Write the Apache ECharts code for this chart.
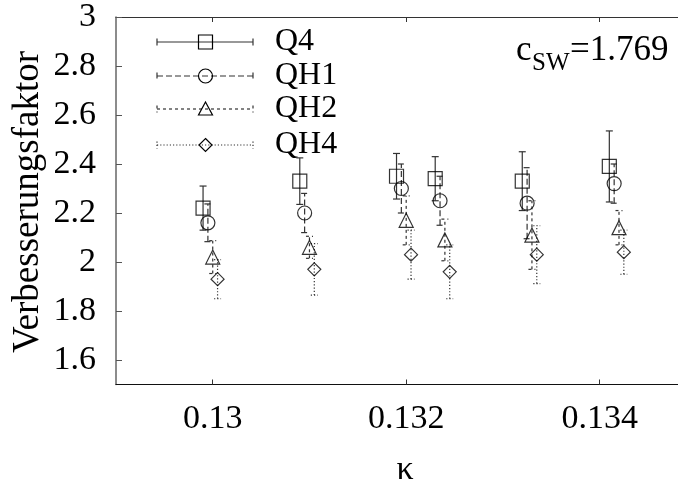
<!DOCTYPE html>
<html>
<head>
<meta charset="utf-8">
<script src="https://cdn.jsdelivr.net/npm/echarts@6/dist/echarts.min.js"></script>
<style>
  html, body { margin: 0; padding: 0; background: #fff; overflow: hidden; width: 678px; height: 486px; }
  #chart { width: 678px; height: 486px; }
</style>
</head>
<body>
<div id="chart"></div>
<script>
// Improvement factor vs. hopping parameter kappa, four operators, c_SW = 1.769
const xTicks = [0.13, 0.132, 0.134];
const yTicks = [1.6, 1.8, 2.0, 2.2, 2.4, 2.6, 2.8, 3.0];

const kappaQ4  = [0.1299, 0.1309, 0.1319, 0.1323, 0.1332, 0.1341];
const valQ4    = [2.22, 2.33, 2.35, 2.34, 2.33, 2.39];
const errQ4    = [0.09, 0.095, 0.093, 0.09, 0.12, 0.145];

const kappaQH1 = [0.12995, 0.13095, 0.13195, 0.13235, 0.13325, 0.13415];
const valQH1   = [2.16, 2.20, 2.30, 2.25, 2.24, 2.32];
const errQH1   = [0.077, 0.08, 0.1, 0.1, 0.145, 0.08];

const kappaQH2 = [0.1300, 0.1310, 0.1320, 0.1324, 0.1333, 0.1342];
const valQH2   = [2.02, 2.06, 2.17, 2.09, 2.11, 2.14];
const errQH2   = [0.067, 0.045, 0.1, 0.085, 0.14, 0.07];

const kappaQH4 = [0.13005, 0.13105, 0.13205, 0.13245, 0.13335, 0.13425];
const valQH4   = [1.93, 1.97, 2.03, 1.96, 2.03, 2.04];
const errQH4   = [0.08, 0.105, 0.1, 0.11, 0.118, 0.09];

const seriesNames = ['Q4', 'QH1', 'QH2', 'QH4'];

const FONT = 'Liberation Serif';
const INK = '#000';
const BAR = '#333';

const styles = [
  { symbol: 'rect',     size: 14, dash: null },
  { symbol: 'circle',   size: 14, dash: [6, 3] },
  { symbol: 'triangle', size: 14, dash: [3, 3] },
  { symbol: 'diamond',  size: 13, dash: [1.2, 2] }
];

function errorSeries(xs, ys, es, dash) {
  return {
    type: 'custom',
    silent: true,
    z: 2,
    encode: { x: 0, y: [1, 2] },
    data: xs.map((x, i) => [x, ys[i] - es[i], ys[i] + es[i]]),
    renderItem: function (params, api) {
      const lo = api.coord([api.value(0), api.value(1)]);
      const hi = api.coord([api.value(0), api.value(2)]);
      const w = 3.5;
      const style = { stroke: BAR, lineWidth: 1.2, lineDash: dash || null, fill: null };
      return {
        type: 'group',
        children: [
          { type: 'line', shape: { x1: lo[0], y1: lo[1], x2: hi[0], y2: hi[1] }, style: style },
          { type: 'line', shape: { x1: lo[0] - w, y1: lo[1], x2: lo[0] + w, y2: lo[1] }, style: style },
          { type: 'line', shape: { x1: hi[0] - w, y1: hi[1], x2: hi[0] + w, y2: hi[1] }, style: style }
        ]
      };
    }
  };
}

function markerSeries(name, xs, ys, st) {
  return {
    name: name,
    type: 'scatter',
    z: 3,
    symbol: st.symbol,
    symbolSize: st.size,
    itemStyle: { color: 'rgba(255,255,255,0)', borderColor: INK, borderWidth: 1.2 },
    data: xs.map((x, i) => [x, ys[i]])
  };
}

const allK = [kappaQ4, kappaQH1, kappaQH2, kappaQH4];
const allV = [valQ4, valQH1, valQH2, valQH4];
const allE = [errQ4, errQH1, errQH2, errQH4];

const series = [];
for (let s = 0; s < 4; s++) {
  series.push(errorSeries(allK[s], allV[s], allE[s], styles[s].dash));
  series.push(markerSeries(seriesNames[s], allK[s], allV[s], styles[s]));
}

// gnuplot-style key in the upper left corner
const keyRows = [42, 76, 109, 145];
const keyX0 = 157, keyX1 = 253, keyMid = 205.5, keyText = 275;
const graphic = [];
function keyMarker(kind, cx, cy) {
  const st = { fill: 'rgba(255,255,255,0)', stroke: INK, lineWidth: 1.2 };
  if (kind === 'rect') return { type: 'rect', shape: { x: cx - 7, y: cy - 7, width: 14, height: 14 }, style: st };
  if (kind === 'circle') return { type: 'circle', shape: { cx: cx, cy: cy, r: 7 }, style: st };
  if (kind === 'triangle') return { type: 'polygon', shape: { points: [[cx, cy - 7], [cx + 7, cy + 6], [cx - 7, cy + 6]] }, style: st };
  return { type: 'polygon', shape: { points: [[cx, cy - 6.5], [cx + 6.5, cy], [cx, cy + 6.5], [cx - 6.5, cy]] }, style: st };
}
seriesNames.forEach((name, i) => {
  const y = keyRows[i];
  const ls = { stroke: BAR, lineWidth: 1.2, lineDash: styles[i].dash || null };
  graphic.push({ type: 'line', shape: { x1: keyX0, y1: y, x2: keyX1, y2: y }, style: ls });
  graphic.push({ type: 'line', shape: { x1: keyX0, y1: y - 3.5, x2: keyX0, y2: y + 3.5 }, style: ls });
  graphic.push({ type: 'line', shape: { x1: keyX1, y1: y - 3.5, x2: keyX1, y2: y + 3.5 }, style: ls });
  graphic.push(keyMarker(styles[i].symbol, keyMid, y));
  graphic.push({
    type: 'text', x: keyText, y: y,
    style: { text: name, fontFamily: FONT, fontSize: 32, fill: INK, verticalAlign: 'middle' }
  });
});

// c_SW annotation
graphic.push({ type: 'text', x: 516, y: 51, style: { text: 'c', fontFamily: FONT, fontSize: 35, fill: INK, verticalAlign: 'middle' } });
graphic.push({ type: 'text', x: 532, y: 63.5, style: { text: 'SW', fontFamily: FONT, fontSize: 25, fill: INK, verticalAlign: 'middle' } });
graphic.push({ type: 'text', x: 570, y: 51, style: { text: '=1.769', fontFamily: FONT, fontSize: 35, fill: INK, verticalAlign: 'middle' } });

// axis titles
graphic.push({
  type: 'text', x: 28, y: 202, rotation: Math.PI / 2,
  style: { text: 'Verbesserungsfaktor', fontFamily: FONT, fontSize: 37, fill: INK, align: 'center', verticalAlign: 'middle' }
});
graphic.push({
  type: 'text', x: 405, y: 470,
  style: { text: 'κ', fontFamily: FONT, fontSize: 34, fill: INK, align: 'center', verticalAlign: 'middle' }
});

const fmtY = v => String(Math.round(v * 10) / 10);
const fmtX = v => String(Math.round(v * 1000) / 1000);

function draw() {
  const chart = echarts.init(document.getElementById('chart'), null, { renderer: 'canvas', width: 678, height: 486 });
  chart.setOption({
    animation: false,
    backgroundColor: '#fff',
    textStyle: { fontFamily: FONT },
    grid: { left: 116, top: 17, right: 0, height: 367.5, containLabel: false, outerBoundsMode: 'none' },
    xAxis: [
      {
        type: 'value', position: 'bottom', min: 0.129, max: 0.13481,
        axisLine: { show: true, lineStyle: { color: '#111', width: 1.2 } },
        axisTick: { show: true, inside: true, length: 5, customValues: xTicks, lineStyle: { color: '#333' } },
        axisLabel: { show: true, customValues: xTicks, formatter: fmtX, margin: 18,
                     fontFamily: FONT, fontSize: 34, color: INK },
        splitLine: { show: false }
      },
      {
        type: 'value', position: 'top', min: 0.129, max: 0.13481,
        axisLine: { show: true, onZero: false, lineStyle: { color: '#333', width: 1.2 } },
        axisTick: { show: true, inside: true, length: 5, customValues: xTicks, lineStyle: { color: '#333' } },
        axisLabel: { show: false },
        splitLine: { show: false }
      }
    ],
    yAxis: {
      type: 'value', min: 1.5, max: 3,
      axisLine: { show: true, onZero: false, lineStyle: { color: '#666', width: 1.5 } },
      axisTick: { show: true, inside: true, length: 6, customValues: yTicks, lineStyle: { color: '#555' } },
      axisLabel: { show: true, customValues: yTicks, formatter: fmtY, margin: 20,
                   fontFamily: FONT, fontSize: 34, color: INK },
      splitLine: { show: false }
    },
    graphic: graphic,
    series: series
  });
}

if (document.fonts && document.fonts.load) {
  document.fonts.load('30px "Liberation Serif"').then(draw, draw);
} else {
  draw();
}
</script>
</body>
</html>
